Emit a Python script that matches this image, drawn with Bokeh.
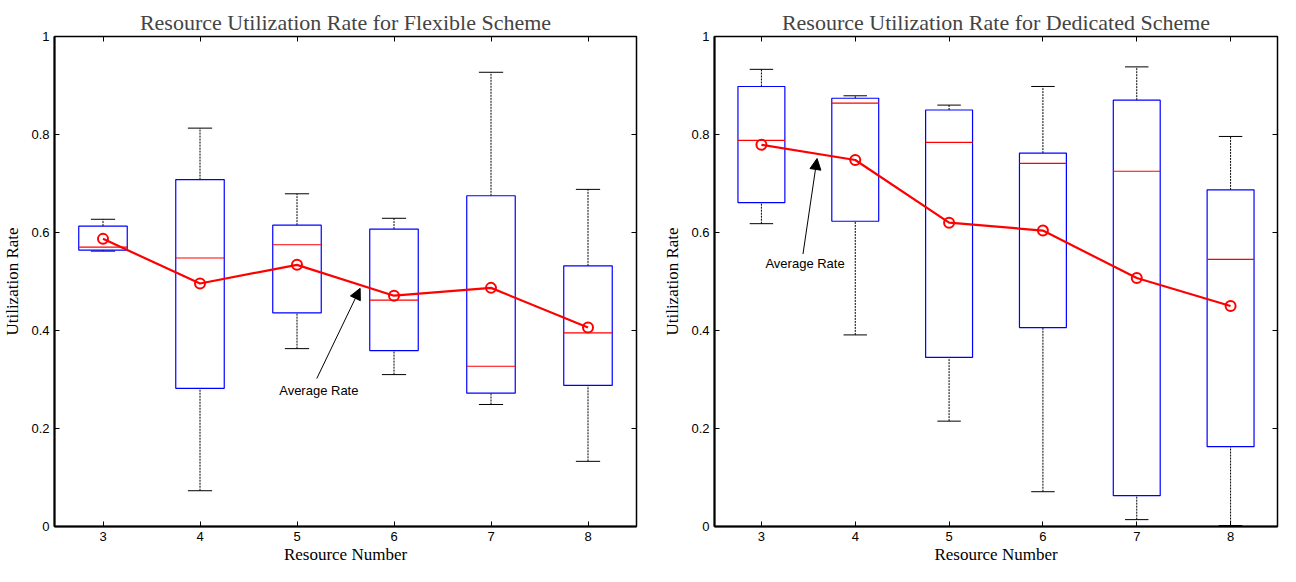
import numpy as np
from bokeh.plotting import figure
from bokeh.layouts import row
from bokeh.models import (Range1d, FixedTicker, LinearAxis, Arrow, NormalHead, Label)
from bokeh.embed import file_html
from bokeh.resources import INLINE

# ---------------- data ----------------
resources = [3, 4, 5, 6, 7, 8]
x_tick_labels = ["3", "4", "5", "6", "7", "8"]
y_ticks = [0, 0.2, 0.4, 0.6, 0.8, 1]
y_tick_labels = ["0", "0.2", "0.4", "0.6", "0.8", "1"]

flex_upper = [0.627, 0.813, 0.679, 0.629, 0.927, 0.688]
flex_q3 = [0.613, 0.708, 0.615, 0.607, 0.675, 0.532]
flex_median = [0.570, 0.548, 0.575, 0.462, 0.327, 0.395]
flex_q1 = [0.564, 0.282, 0.436, 0.359, 0.272, 0.288]
flex_lower = [0.562, 0.073, 0.363, 0.310, 0.249, 0.133]
flex_mean = [0.587, 0.496, 0.534, 0.471, 0.487, 0.406]

ded_upper = [0.933, 0.879, 0.860, 0.898, 0.938, 0.796]
ded_q3 = [0.898, 0.874, 0.850, 0.762, 0.870, 0.687]
ded_median = [0.788, 0.864, 0.784, 0.741, 0.725, 0.545]
ded_q1 = [0.661, 0.623, 0.345, 0.406, 0.063, 0.163]
ded_lower = [0.618, 0.391, 0.215, 0.071, 0.014, 0.002]
ded_mean = [0.779, 0.748, 0.620, 0.604, 0.507, 0.450]

# annotation anchors (data coordinates): text x, text y, arrow tail x/y, arrow head x/y
flex_note = dict(tx=5.225, ty=0.278, x0=5.204, y0=0.302, x1=5.651, y1=0.486)
ded_note = dict(tx=3.465, ty=0.536, x0=3.443, y0=0.556, x1=3.593, y1=0.751)

BOX_W = 0.5
CAP_W = 0.25
SERIF = "Liberation Serif"
SANS = "Liberation Sans"


def make_panel(title, upper, q3, med, q1, lower, mean, note, width, bl, br):
    p = figure(width=width, height=566, output_backend="svg", toolbar_location=None,
               x_range=Range1d(2.5, 8.5), y_range=Range1d(0, 1),
               min_border_left=bl, min_border_right=br, min_border_top=36,
               min_border_bottom=40, title=title)
    p.title.align = "center"
    p.title.text_font = SERIF
    p.title.text_font_size = "22px"
    p.title.text_font_style = "normal"
    p.title.offset = 0
    p.title.standoff = 4
    p.grid.visible = False
    p.outline_line_color = "black"
    p.outline_line_width = 1.5
    p.outline_line_alpha = 1
    p.background_fill_color = "white"
    p.border_fill_color = "white"

    x = np.array(resources, dtype=float)
    # whiskers
    p.segment(x0=x, y0=q3, x1=x, y1=upper, line_color="black", line_dash="2 1", line_width=1)
    p.segment(x0=x, y0=lower, x1=x, y1=q1, line_color="black", line_dash="2 1", line_width=1)
    # caps
    p.segment(x0=x - CAP_W / 2, y0=upper, x1=x + CAP_W / 2, y1=upper, line_color="black", line_width=1)
    p.segment(x0=x - CAP_W / 2, y0=lower, x1=x + CAP_W / 2, y1=lower, line_color="black", line_width=1)
    # boxes
    p.vbar(x=x, width=BOX_W, top=q3, bottom=q1, fill_color=None, line_color="#0000FF", line_width=1.2)
    # medians
    p.segment(x0=x - BOX_W / 2, y0=med, x1=x + BOX_W / 2, y1=med, line_color="#FF0000", line_width=1.2)
    # mean line
    p.line(x, mean, line_color="#FF0000", line_width=2.2)
    p.scatter(x, mean, marker="circle", size=10, fill_color=None, line_color="#FF0000", line_width=2)

    # annotation
    p.add_layout(Arrow(end=NormalHead(size=11, fill_color="black", line_color="black"),
                       x_start=note["x0"], y_start=note["y0"], x_end=note["x1"], y_end=note["y1"],
                       line_color="black", line_width=1))
    p.add_layout(Label(x=note["tx"], y=note["ty"], text="Average Rate", text_align="center",
                       text_baseline="middle", text_font=SANS, text_font_size="13px",
                       text_color="black"))

    # axes
    xa = p.xaxis[0]
    xa.ticker = FixedTicker(ticks=resources)
    xa.major_label_overrides = {r: l for r, l in zip(resources, x_tick_labels)}
    ya = p.yaxis[0]
    ya.ticker = FixedTicker(ticks=y_ticks)
    ya.major_label_overrides = {t: l for t, l in zip(y_ticks, y_tick_labels)}
    for ax in (xa, ya):
        ax.major_tick_in = 5
        ax.major_tick_out = 0
        ax.minor_tick_line_color = None
        ax.axis_line_width = 2
        ax.axis_line_color = "black"
        ax.major_tick_line_color = "black"
        ax.major_label_text_font = SANS
        ax.major_label_text_font_size = "13px"
        ax.major_label_text_color = "black"
        ax.axis_label_text_font = SERIF
        ax.axis_label_text_font_size = "17px"
        ax.axis_label_text_font_style = "normal"
        ax.axis_label_text_color = "black"
        ax.major_label_standoff = 5
    xa.axis_label = "Resource Number"
    ya.axis_label = "Utilization Rate"
    xa.axis_label_standoff = 1
    ya.axis_label_standoff = 6

    # mirrored tick marks on top and right (no labels)
    top = LinearAxis(ticker=FixedTicker(ticks=resources), major_tick_in=5, major_tick_out=0,
                     minor_tick_line_color=None, axis_line_color=None,
                     major_label_overrides={r: "" for r in resources},
                     major_label_text_font_size="0px", major_label_standoff=0)
    right = LinearAxis(ticker=FixedTicker(ticks=y_ticks), major_tick_in=5, major_tick_out=0,
                       minor_tick_line_color=None, axis_line_color=None,
                       major_label_overrides={t: "" for t in y_ticks},
                       major_label_text_font_size="0px", major_label_standoff=0)
    p.add_layout(top, "above")
    p.add_layout(right, "right")
    return p


p1 = make_panel("Resource Utilization Rate for Flexible Scheme", flex_upper, flex_q3, flex_median,
                flex_q1, flex_lower, flex_mean, flex_note, width=650, bl=50, br=14)
p2 = make_panel("Resource Utilization Rate for Dedicated Scheme", ded_upper, ded_q3, ded_median,
                ded_q1, ded_lower, ded_mean, ded_note, width=630, bl=64, br=3)

layout = row(p1, p2)
open("out.html", "w").write(file_html(layout, INLINE))
